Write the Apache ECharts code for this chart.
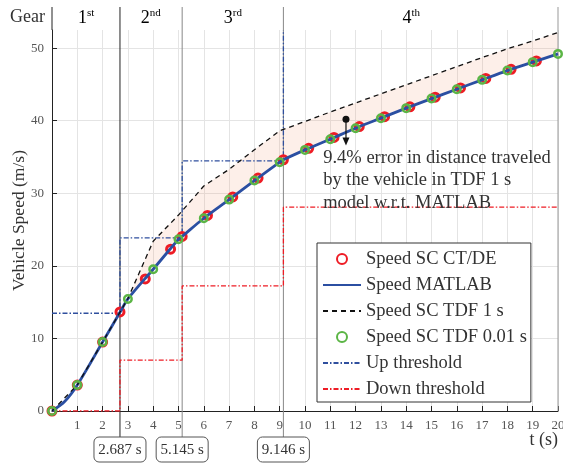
<!DOCTYPE html>
<html>
<head>
<meta charset="utf-8">
<script src="https://cdn.jsdelivr.net/npm/echarts@6/dist/echarts.min.js"></script>
<style>
html, body { margin: 0; padding: 0; background: #fff; }
#chart { width: 563px; height: 463px; }
</style>
</head>
<body>
<div id="chart"></div>
<script>
// speed data (t in s, v in m/s)
var matlabT = [0, 0.5, 1, 2, 2.687, 3, 4, 5, 5.145, 6, 7, 8, 9, 9.146, 10, 11, 12, 13, 14, 15, 16, 17, 18, 19, 20];
var matlabV = [0, 1.3, 3.58, 9.5, 13.6, 15.44, 19.53, 23.67, 24.05, 26.56, 29.13, 31.75, 34.28, 34.62, 35.98, 37.45, 38.97, 40.35, 41.73, 43.05, 44.34, 45.63, 46.91, 48.07, 49.21];

var tdf001T = [0, 1, 2, 3, 4, 5, 6, 7, 8, 9, 10, 11, 12, 13, 14, 15, 16, 17, 18, 19, 20];
var tdf001V = [0, 3.58, 9.5, 15.44, 19.53, 23.67, 26.56, 29.13, 31.75, 34.28, 35.98, 37.45, 38.97, 40.35, 41.73, 43.05, 44.34, 45.63, 46.91, 48.07, 49.21];

var ctdeT = [0, 1, 2, 2.687, 3.687, 4.687, 5.145, 6.145, 7.145, 8.145, 9.146, 10.146, 11.146, 12.146, 13.146, 14.146, 15.146, 16.146, 17.146, 18.146, 19.146];
var ctdeV = [0, 3.58, 9.5, 13.65, 18.2, 22.3, 24.05, 26.95, 29.5, 32.1, 34.62, 36.2, 37.7, 39.2, 40.55, 41.92, 43.25, 44.52, 45.82, 47.08, 48.24];

var tdf1T = [0, 1, 2, 3, 4, 5, 6, 7, 8, 9, 10, 11, 12, 13, 14, 15, 16, 17, 18, 19, 20];
var tdf1V = [0, 3.6, 9.5, 15.5, 23.4, 27.0, 31.0, 33.3, 36.0, 38.6, 39.9, 41.2, 42.45, 43.7, 44.95, 46.2, 47.45, 48.7, 49.9, 51.0, 52.15];

var upT = [0, 2.687, 2.687, 5.145, 5.145, 9.146, 9.146];
var upV = [13.47, 13.47, 23.85, 23.85, 34.46, 34.46, 52.5];
var downT = [0, 2.687, 2.687, 5.145, 5.145, 9.146, 9.146, 20];
var downV = [0, 0, 7.0, 7.0, 17.23, 17.23, 28.08, 28.08];

var shiftTimes = [2.687, 5.145, 9.146];
var shiftLabels = ['2.687 s', '5.145 s', '9.146 s'];
var gearNums = ['1', '2', '3', '4'];
var gearSups = ['st', 'nd', 'rd', 'th'];
var gearLabelT = [1.35, 3.9, 7.15, 14.2];

var errorDot = [11.62, 40.2];
var errorTip = [11.62, 36.6];
var errorTextAt = [10.72, 36.4];
var errorText = '9.4% error in distance traveled\nby the vehicle in TDF 1 s\nmodel w.r.t. MATLAB';

var FONT = '"Liberation Serif", "Times New Roman", serif';
var Y_MAX = 52.5;
var RED = '#ee1c25', GREEN = '#5bb545', BLUE = '#2b4fa2', DKBLUE = '#2f4f9e';

function pairs(ts, vs) {
    return ts.map(function (t, i) { return [t, vs[i]]; });
}

// legend entries for plain lines: hide the marker dot ECharts puts on line icons
var noDot = { color: 'rgba(0,0,0,0)', borderWidth: 0, opacity: 0 };

var chart = echarts.init(document.getElementById('chart'));

var option = {
    animation: false,
    backgroundColor: '#fff',
    textStyle: { fontFamily: FONT },
    grid: { left: 52, right: 5, top: 30, bottom: 52, containLabel: false, outerBoundsMode: 'none' },
    xAxis: {
        type: 'value', min: 0, max: 20, interval: 1,
        axisLine: { lineStyle: { color: '#222', width: 1 } },
        axisTick: { inside: true, length: 5, lineStyle: { color: '#222' } },
        axisLabel: {
            color: '#555', fontFamily: FONT, fontSize: 13, margin: 8,
            formatter: function (v) { return v === 0 ? '' : v; }
        },
        splitLine: { show: true, lineStyle: { color: '#e4e4e4', width: 1 } }
    },
    yAxis: {
        type: 'value', min: 0, max: Y_MAX, interval: 10,
        name: 'Vehicle Speed (m/s)', nameLocation: 'middle', nameGap: 24, nameMoveOverlap: false,
        nameTextStyle: { fontFamily: FONT, fontSize: 17.5, color: '#333' },
        axisLine: { show: true, lineStyle: { color: '#222', width: 1 } },
        axisTick: { inside: true, length: 5, lineStyle: { color: '#222' } },
        axisLabel: { color: '#555', fontFamily: FONT, fontSize: 13, margin: 8, showMaxLabel: false },
        splitLine: { show: true, showMaxLine: false, lineStyle: { color: '#e4e4e4', width: 1 } }
    },
    legend: {
        orient: 'vertical', left: 317, top: 243,
        padding: [6, 4, 3, 5],
        backgroundColor: '#fff', borderColor: '#333', borderWidth: 1,
        itemWidth: 38, itemHeight: 10, itemGap: 6,
        selectedMode: false,
        textStyle: { fontFamily: FONT, fontSize: 18.5, color: '#333', lineHeight: 20 },
        data: [
            { name: 'Speed SC CT/DE' },
            { name: 'Speed MATLAB', itemStyle: noDot },
            { name: 'Speed SC TDF 1 s', itemStyle: noDot },
            { name: 'Speed SC TDF 0.01 s' },
            { name: 'Up threshold', itemStyle: noDot },
            { name: 'Down threshold', itemStyle: noDot }
        ]
    },
    graphic: [
        { type: 'text', left: 10, top: 8, style: { text: 'Gear', font: '18px ' + FONT, fill: '#333' } },
        { type: 'text', right: 5, top: 431, style: { text: 't (s)', font: '18px ' + FONT, fill: '#333' } }
    ],
    series: [
        {
            // shaded gap between TDF 1 s and MATLAB
            type: 'custom', name: 'gap', z: 1, silent: true,
            data: [[2.687, 13.6]],
            renderItem: function (params, api) {
                var top = pairs(tdf1T, tdf1V).filter(function (p) { return p[0] >= 2; });
                var bot = pairs(matlabT, matlabV).filter(function (p) { return p[0] >= 2; }).reverse();
                var pts = top.concat(bot).map(function (p) { return api.coord(p); });
                return { type: 'polygon', shape: { points: pts }, style: { fill: 'rgba(240,150,110,0.15)' } };
            }
        },
        {
            // gear shift lines and time boxes
            type: 'custom', name: 'shifts', z: 2, silent: true, clip: false,
            data: shiftTimes.map(function (t) { return [t, 0]; }),
            renderItem: function (params, api) {
                var t = api.value(0);
                var top = api.coord([t, Y_MAX]);
                var bot = api.coord([t, 0]);
                var col = params.dataIndex === 0 ? '#222' : '#888';
                return {
                    type: 'group', children: [
                        { type: 'line', shape: { x1: top[0], y1: top[1] - 23, x2: bot[0], y2: bot[1] + 26 }, style: { stroke: col, lineWidth: 1 } },
                        { type: 'rect', shape: { x: bot[0] - 26, y: bot[1] + 26, width: 52, height: 25, r: 5 }, style: { fill: '#fff', stroke: '#555', lineWidth: 1 } },
                        { type: 'text', x: bot[0], y: bot[1] + 39, style: { text: shiftLabels[params.dataIndex], font: '15px ' + FONT, fill: '#333', align: 'center', verticalAlign: 'middle' } }
                    ]
                };
            }
        },
        {
            // header frame lines at both ends of the time axis
            type: 'custom', name: 'frame', z: 2, silent: true, clip: false,
            data: [[0], [20]],
            renderItem: function (params, api) {
                var t = api.value(0);
                var top = api.coord([t, Y_MAX]);
                var bot = api.coord([t, 0]);
                var isEnd = params.dataIndex === 1;
                return {
                    type: 'line',
                    shape: { x1: top[0], y1: top[1] - 23, x2: top[0], y2: isEnd ? bot[1] : top[1] },
                    style: { stroke: isEnd ? '#999' : '#222', lineWidth: 1 }
                };
            }
        },
        {
            // gear names in the header
            type: 'custom', name: 'gears', z: 2, silent: true, clip: false,
            data: gearLabelT.map(function (t) { return [t, Y_MAX]; }),
            renderItem: function (params, api) {
                var p = api.coord([api.value(0), Y_MAX]);
                var i = params.dataIndex;
                return {
                    type: 'text', x: p[0], y: p[1] - 12,
                    style: {
                        text: '{b|' + gearNums[i] + '}{s|' + gearSups[i] + '}',
                        align: 'center', verticalAlign: 'middle',
                        rich: {
                            b: { fontFamily: FONT, fontSize: 18, color: '#333', lineHeight: 20 },
                            s: { fontFamily: FONT, fontSize: 11, color: '#333', verticalAlign: 'top', lineHeight: 12 }
                        }
                    }
                };
            }
        },
        {
            name: 'Up threshold', type: 'line', z: 3, symbol: 'none', showSymbol: false,
            data: pairs(upT, upV),
            lineStyle: { color: DKBLUE, width: 1.3, type: [5, 2, 1.5, 2] }, itemStyle: { color: DKBLUE }
        },
        {
            name: 'Down threshold', type: 'line', z: 3, symbol: 'none', showSymbol: false,
            data: pairs(downT, downV),
            lineStyle: { color: RED, width: 1.3, type: [5, 2, 1.5, 2] }, itemStyle: { color: RED }
        },
        {
            name: 'Speed SC CT/DE', type: 'scatter', z: 4,
            data: pairs(ctdeT, ctdeV), symbol: 'circle', symbolSize: 8,
            itemStyle: { color: 'rgba(0,0,0,0)', borderColor: RED, borderWidth: 3, opacity: 1 }
        },
        {
            name: 'Speed MATLAB', type: 'line', z: 5, symbol: 'none', showSymbol: false, smooth: 0.3,
            data: pairs(matlabT, matlabV),
            lineStyle: { color: BLUE, width: 2.8 }, itemStyle: { color: BLUE }
        },
        {
            name: 'Speed SC TDF 1 s', type: 'line', z: 5, symbol: 'none', showSymbol: false,
            data: pairs(tdf1T, tdf1V),
            lineStyle: { color: '#111', width: 1.3, type: [5, 4] }, itemStyle: { color: '#111' }
        },
        {
            name: 'Speed SC TDF 0.01 s', type: 'scatter', z: 6,
            data: pairs(tdf001T, tdf001V), symbol: 'circle', symbolSize: 7.5,
            itemStyle: { color: 'rgba(0,0,0,0)', borderColor: GREEN, borderWidth: 2.5, opacity: 1 }
        },
        {
            // 9.4 % error annotation
            type: 'custom', name: 'note', z: 7, silent: true, clip: false,
            data: [[errorDot[0], errorDot[1]]],
            renderItem: function (params, api) {
                var a = api.coord(errorDot);
                var b = api.coord(errorTip);
                var tp = api.coord(errorTextAt);
                return {
                    type: 'group', children: [
                        { type: 'line', shape: { x1: a[0], y1: a[1], x2: b[0], y2: b[1] - 7 }, style: { stroke: '#111', lineWidth: 1.2 } },
                        { type: 'polygon', shape: { points: [[b[0] - 3.5, b[1] - 8], [b[0] + 3.5, b[1] - 8], [b[0], b[1]]] }, style: { fill: '#111' } },
                        { type: 'circle', shape: { cx: a[0], cy: a[1], r: 3.5 }, style: { fill: '#111' } },
                        { type: 'text', x: tp[0], y: tp[1], style: { text: errorText, font: '18.5px ' + FONT, lineHeight: 22.5, fill: '#333', align: 'left', verticalAlign: 'top' } }
                    ]
                };
            }
        }
    ]
};

chart.setOption(option);
</script>
</body>
</html>
